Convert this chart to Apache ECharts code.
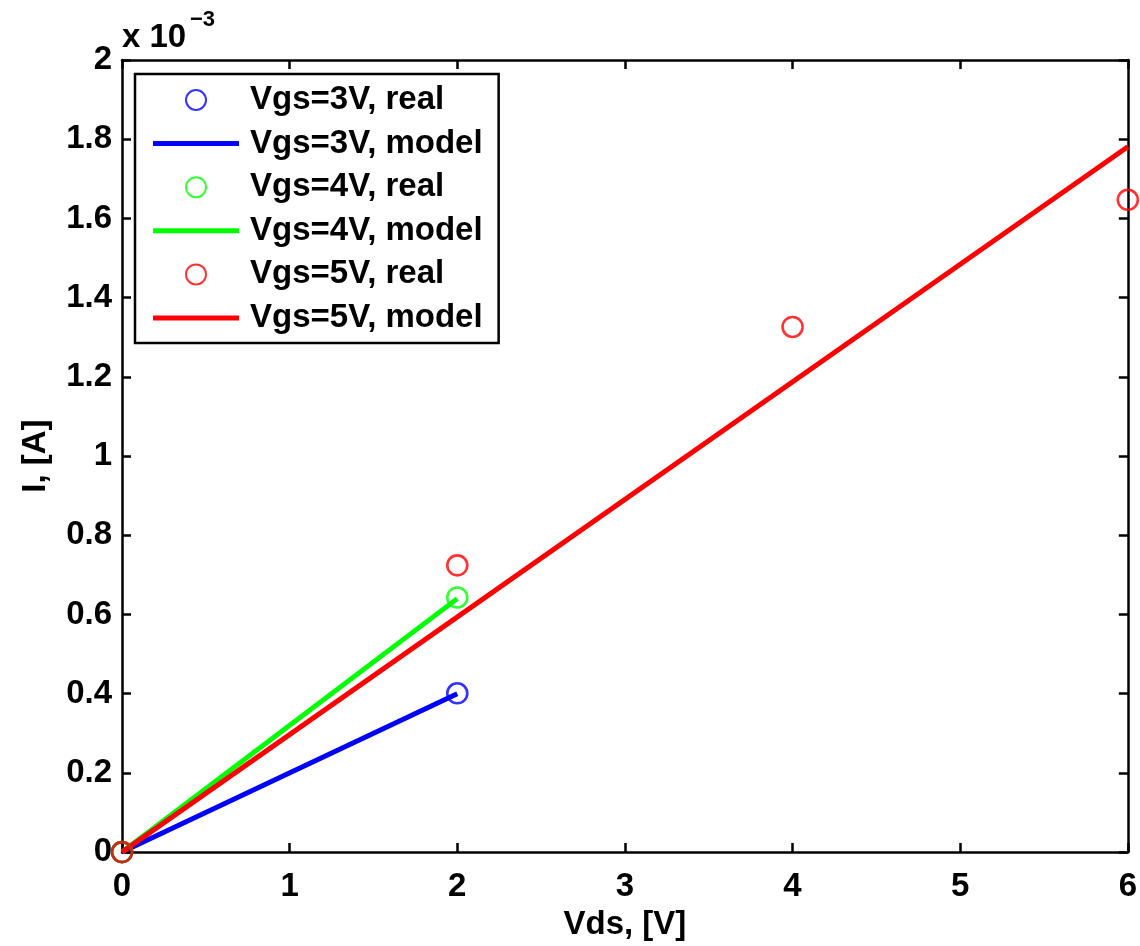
<!DOCTYPE html>
<html>
<head>
<meta charset="utf-8">
<script src="https://cdn.jsdelivr.net/npm/echarts@6/dist/echarts.min.js"></script>
<style>
html,body{margin:0;padding:0;background:#fff;}
#chart{width:1140px;height:946px;}
</style>
</head>
<body>
<div id="chart"></div>
<script>
// Vds [V] and current I [A]
const vdsReal = [0, 2, 4, 6];
const real3V = [0, 0.401e-3];
const model3V = [0, 0.400e-3];
const real4V = [0, 0.643e-3];
const model4V = [0, 0.640e-3];
const real5V = [0, 0.724e-3, 1.326e-3, 1.647e-3];
const vdsModel5 = [0, 6];
const model5V = [0, 1.781e-3];
const xTicks = [0, 1, 2, 3, 4, 5, 6];
const yTicks = [0, 0.2, 0.4, 0.6, 0.8, 1, 1.2, 1.4, 1.6, 1.8, 2]; // x 10^-3

const FONT = 'Liberation Sans';
const FS = 33;

function pairs(xs, ys) { return ys.map((y, i) => [xs[i], y]); }

const chart = echarts.init(document.getElementById('chart'), null, {renderer: 'canvas'});

const axisLine = {show: true, onZero: false, lineStyle: {color: '#000', width: 2.5}};
const axisTick = {show: true, inside: true, length: 9, lineStyle: {color: '#000', width: 2.5}};

function circleSeries(name, color, data) {
  return {
    name, type: 'scatter', data, symbol: 'circle', symbolSize: 20,
    itemStyle: {color: 'rgba(0,0,0,0)', borderColor: color, borderWidth: 2.6},
    z: 3, emphasis: {disabled: true}
  };
}
function lineSeries(name, color, data) {
  return {
    name, type: 'line', data, symbol: 'none', showSymbol: false,
    lineStyle: {color, width: 5}, itemStyle: {color},
    z: 2, emphasis: {disabled: true}
  };
}

const lineIcon = 'path://M0,0L86,0L86,5L0,5Z';
const names = ['Vgs=3V, real', 'Vgs=3V, model', 'Vgs=4V, real', 'Vgs=4V, model', 'Vgs=5V, real', 'Vgs=5V, model'];

chart.setOption({
  animation: false,
  backgroundColor: '#fff',
  textStyle: {fontFamily: FONT, fontWeight: 'bold'},
  grid: {left: 122, right: 10, top: 60, bottom: 90, containLabel: false},
  xAxis: [{
    type: 'value', min: xTicks[0], max: xTicks[xTicks.length - 1], interval: 1,
    position: 'bottom',
    axisLine, axisTick, splitLine: {show: false},
    axisLabel: {color: '#000', fontSize: FS, fontFamily: FONT, fontWeight: 'bold', margin: 18,
      showMinLabel: true, showMaxLabel: true},
    name: 'Vds, [V]', nameLocation: 'middle', nameGap: 54,
    nameTextStyle: {color: '#000', fontSize: FS, fontFamily: FONT, fontWeight: 'bold'}
  }, {
    type: 'value', min: xTicks[0], max: xTicks[xTicks.length - 1], interval: 1,
    position: 'top', axisLine, axisTick, splitLine: {show: false}, axisLabel: {show: false}
  }],
  yAxis: [{
    type: 'value', min: 0, max: 2e-3, interval: 0.2e-3,
    position: 'left',
    axisLine, axisTick, splitLine: {show: false},
    axisLabel: {color: '#000', fontSize: FS, fontFamily: FONT, fontWeight: 'bold', margin: 10,
      formatter: v => String(parseFloat((v * 1e3).toFixed(4)))},
    name: 'I, [A]', nameLocation: 'middle', nameGap: 70, nameRotate: 90,
    nameTextStyle: {color: '#000', fontSize: FS, fontFamily: FONT, fontWeight: 'bold'}
  }, {
    type: 'value', min: 0, max: 2e-3, interval: 0.2e-3,
    position: 'right', axisLine, axisTick, splitLine: {show: false}, axisLabel: {show: false}
  }],
  legend: {
    show: true, orient: 'vertical', left: 135, top: 74,
    backgroundColor: '#fff', borderColor: '#000', borderWidth: 2.5,
    padding: [9, 16, 8, 18], itemGap: 9.6, itemWidth: 86, itemHeight: 20,
    textStyle: {color: '#000', fontSize: FS, fontFamily: FONT, fontWeight: 'bold', lineHeight: 34, padding: [0, 0, 0, 6]},
    selectedMode: false,
    data: names.map(n => ({name: n, icon: n.indexOf('model') >= 0 ? lineIcon : 'circle'}))
  },
  graphic: [{
    type: 'text', left: 122, top: 21,
    style: {text: 'x 10', fontSize: FS, fontFamily: FONT, fontWeight: 'bold', fill: '#000'}
  }, {
    type: 'text', left: 190, top: 9,
    style: {text: '−3', fontSize: 22, fontFamily: FONT, fontWeight: 'bold', fill: '#000'}
  }],
  series: [
    lineSeries('Vgs=3V, model', '#0000ff', pairs(vdsReal, model3V)),
    lineSeries('Vgs=4V, model', '#00ff00', pairs(vdsReal, model4V)),
    lineSeries('Vgs=5V, model', '#ff0000', pairs(vdsModel5, model5V)),
    circleSeries('Vgs=3V, real', '#0000ff', pairs(vdsReal, real3V)),
    circleSeries('Vgs=4V, real', '#00ff00', pairs(vdsReal, real4V)),
    circleSeries('Vgs=5V, real', '#ff0000', pairs(vdsReal, real5V))
  ]
});
</script>
</body>
</html>
